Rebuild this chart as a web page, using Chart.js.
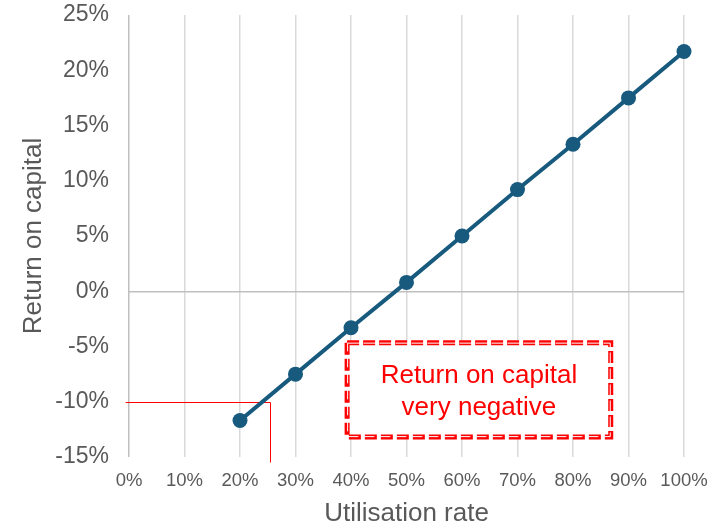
<!DOCTYPE html>
<html>
<head>
<meta charset="utf-8">
<script src="https://cdn.jsdelivr.net/npm/chart.js@4/dist/chart.umd.min.js"></script>
<style>
  html, body { margin: 0; padding: 0; background: #ffffff; }
  #wrap { width: 718px; height: 527px; }
</style>
</head>
<body>
<div id="wrap"><canvas id="c" width="718" height="527"></canvas></div>
<script>
// Utilisation rate (%) and the resulting return on capital (%)
const utilisation = [20, 30, 40, 50, 60, 70, 80, 90, 100];
const returnOnCapital = [-11.7, -7.5, -3.3, 0.8, 5.0, 9.2, 13.3, 17.5, 21.7];

// Axis ranges and tick steps
const xRange = [0, 100];
const xStep = 10;
const yRange = [-15, 25];
const yStep = 5;

// Break-even marker: the -10% guide and the utilisation where it meets the line
const markerX = [-0.6, 25.4];
const markerY = [-10, -15.5];

// Callout box (data units) and its text
const calloutX = [39.3, 86.8];
const calloutY = [-4.65, -13.2];
const calloutText = ['Return on capital', 'very negative'];

const FONT = "'Liberation Sans', Arial, sans-serif";
const GREY = '#595959';
const RED = '#ff0000';
const BLUE = '#175a7e';

const markerPlugin = {
  id: 'markerLines',
  beforeDatasetsDraw(chart) {
    const { ctx, scales: { x, y } } = chart;
    const yy = y.getPixelForValue(markerY[0]);
    const xx = x.getPixelForValue(markerX[1]);
    ctx.save();
    ctx.strokeStyle = RED;
    ctx.lineWidth = 1;
    ctx.beginPath();
    ctx.moveTo(x.getPixelForValue(markerX[0]), Math.round(yy) + 0.5);
    ctx.lineTo(Math.round(xx) + 0.5, Math.round(yy) + 0.5);
    ctx.lineTo(Math.round(xx) + 0.5, y.getPixelForValue(markerY[1]));
    ctx.stroke();
    ctx.restore();
  },
  afterDatasetsDraw(chart) {
    const { ctx, scales: { x, y } } = chart;
    const l = x.getPixelForValue(calloutX[0]);
    const r = x.getPixelForValue(calloutX[1]);
    const t = y.getPixelForValue(calloutY[0]);
    const b = y.getPixelForValue(calloutY[1]);
    ctx.save();
    ctx.fillStyle = '#ffffff';
    ctx.fillRect(l, t, r - l, b - t);
    ctx.setLineDash([12, 4]);
    ctx.strokeStyle = RED;
    ctx.lineWidth = 5;
    ctx.strokeRect(l, t, r - l, b - t);
    ctx.strokeStyle = '#ffffff';
    ctx.lineWidth = 1;
    ctx.strokeRect(l + 0.5, t + 0.5, r - l - 1, b - t - 1);
    ctx.setLineDash([]);
    ctx.fillStyle = RED;
    ctx.font = "26px " + FONT;
    ctx.textAlign = 'center';
    ctx.textBaseline = 'middle';
    const cx = (l + r) / 2;
    const cy = (t + b) / 2;
    ctx.fillText(calloutText[0], cx, cy - 14);
    ctx.fillText(calloutText[1], cx, cy + 18);
    ctx.restore();
  }
};

new Chart(document.getElementById('c'), {
  type: 'line',
  data: {
    datasets: [{
      data: utilisation.map((u, i) => ({ x: u, y: returnOnCapital[i] })),
      borderColor: BLUE,
      backgroundColor: BLUE,
      borderWidth: 4,
      pointRadius: 7.5,
      pointHoverRadius: 7.5,
      pointBorderWidth: 0,
      tension: 0,
      clip: false
    }]
  },
  options: {
    responsive: false,
    animation: false,
    devicePixelRatio: 1,
    layout: { padding: { top: 15, right: 34, left: 0, bottom: 0 } },
    plugins: { legend: { display: false }, tooltip: { enabled: false } },
    scales: {
      x: {
        type: 'linear',
        min: xRange[0], max: xRange[1],
        afterFit(s) { s.height = 70; s.paddingLeft = 0; s.paddingRight = 0; },
        ticks: {
          stepSize: xStep,
          color: GREY,
          padding: 13,
          font: { family: FONT, size: 18.5 },
          callback: v => v + '%'
        },
        grid: {
          drawTicks: false,
          lineWidth: 1.5,
          color: c => c.tick && c.tick.value === 0 ? '#bfbfbf' : '#d9d9d9'
        },
        border: { display: false },
        title: {
          display: true,
          text: 'Utilisation rate',
          color: GREY,
          font: { family: FONT, size: 26 },
          padding: { top: 0, bottom: -2 }
        }
      },
      y: {
        min: yRange[0], max: yRange[1],
        afterFit(s) { s.width = 129; s.paddingTop = 0; s.paddingBottom = 0; },
        ticks: {
          stepSize: yStep,
          color: GREY,
          padding: 20,
          font: { family: FONT, size: 23 },
          callback: v => v + '%'
        },
        grid: {
          drawTicks: false,
          lineWidth: 1.5,
          color: c => c.tick && c.tick.value === 0 ? '#bfbfbf' : 'rgba(0,0,0,0)'
        },
        border: { display: false },
        title: {
          display: true,
          text: 'Return on capital',
          color: GREY,
          font: { family: FONT, size: 26 },
          padding: { top: 18, bottom: 0 }
        }
      }
    }
  },
  plugins: [markerPlugin]
});
</script>
</body>
</html>
